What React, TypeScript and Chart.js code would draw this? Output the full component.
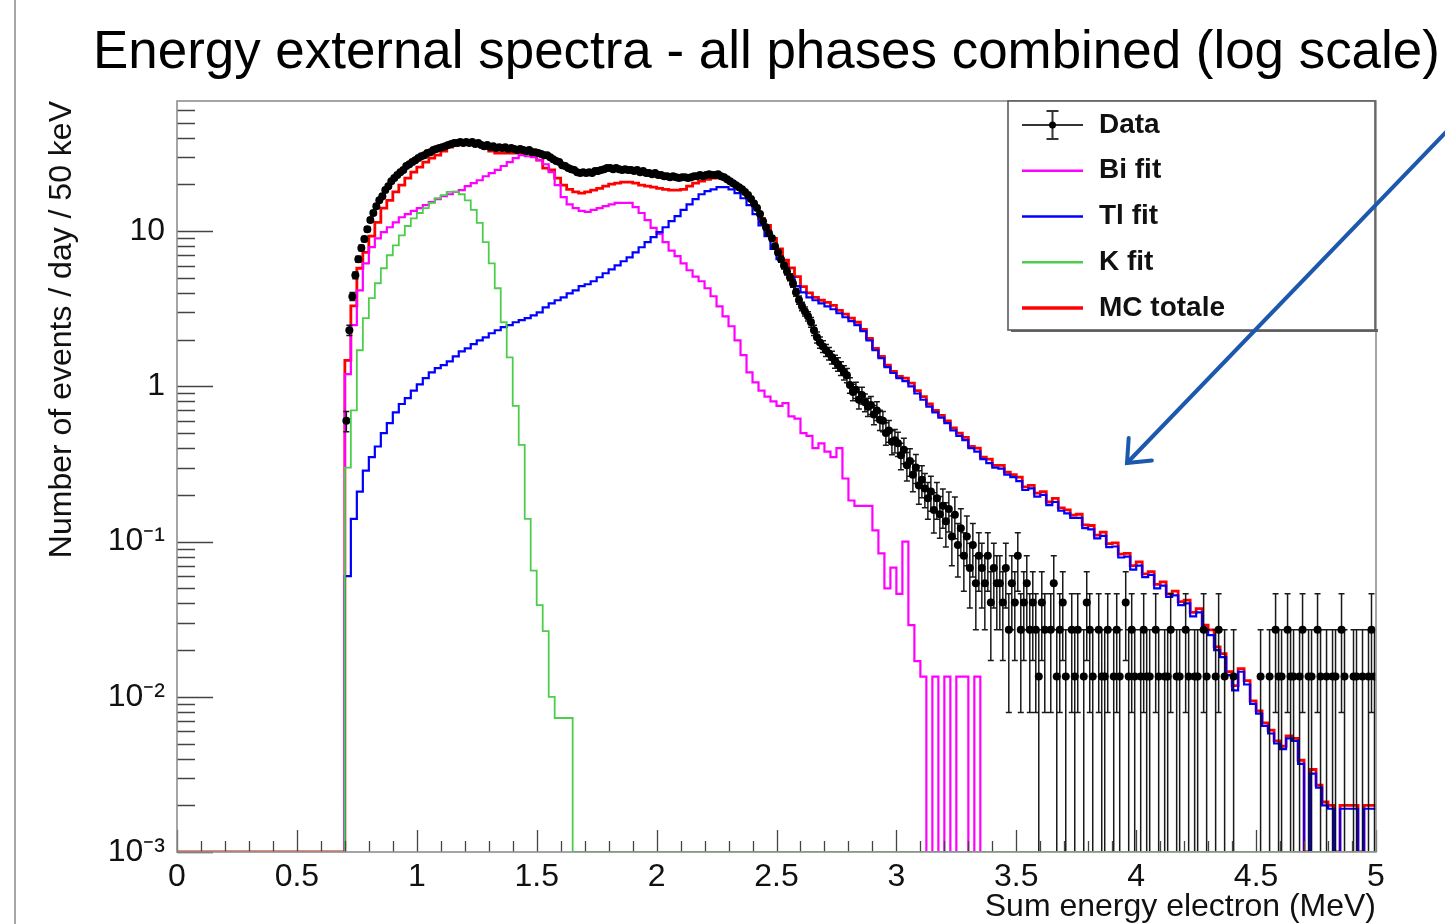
import React, { useEffect, useRef } from 'react';
import { Chart, registerables } from 'chart.js';

Chart.register(...registerables);

// ---------- text ----------
const TITLE = 'Energy external spectra - all phases combined (log scale)';
const X_TITLE = 'Sum energy electron (MeV)';
const Y_TITLE = 'Number of events / day / 50 keV';
const LEGEND_LABELS = ['Data', 'Bi fit', 'Tl fit', 'K fit', 'MC totale'];

// ---------- axes ----------
const X_MIN = 0;
const X_MAX = 5;
const X_TICK_STEP = 0.5;
const X_MINOR_STEP = 0.1;
const Y_MIN = 0.001;
const Y_MAX = 69;
const Y_TICKS = [0.001, 0.01, 0.1, 1, 10];
const Y_TICK_LABELS = ['10⁻³', '10⁻²', '10⁻¹', '1', '10'];

// ---------- binning ----------
// everything starts at the 0.700 MeV threshold (empty below)
const FIRST_BIN_LOW = 0.7;
const MC_BIN_WIDTH = 0.025; // fit histograms
const DATA_BIN_WIDTH = 0.0125; // data points
// weight of a single recorded event (events / day / bin) -> Poisson errors
const EVENT_WEIGHT = 0.0135;

// ---------- series (one value per bin from 0.700 MeV; bins after the last listed value are empty) ----------
const DATA = [
  0.6, 2.3, 3.8, 5.2, 6.6, 7.8, 8.9, 10.3, 11.8, 13.1,
  14.5, 15.8, 16.8, 18.4, 19.5, 21.0, 22.0, 23.0, 24.0, 24.8,
  26.3, 27.0, 27.9, 28.7, 29.6, 30.4, 30.9, 31.9, 32.3, 33.3,
  33.8, 34.3, 34.8, 35.3, 35.9, 36.4, 37.0, 37.0, 37.5, 37.0,
  37.5, 37.0, 37.5, 36.4, 37.0, 35.9, 35.3, 35.9, 34.8, 35.3,
  34.3, 34.8, 34.3, 34.8, 33.8, 34.3, 33.8, 33.3, 33.8, 33.3,
  32.8, 33.3, 32.3, 32.3, 31.9, 31.4, 30.9, 30.9, 30.0, 29.1,
  28.3, 27.9, 26.6, 26.3, 25.5, 25.1, 24.8, 24.0, 23.7, 24.0,
  23.7, 24.0, 23.7, 24.4, 24.4, 24.8, 25.1, 25.5, 25.5, 25.1,
  25.5, 25.1, 24.8, 25.1, 24.8, 24.8, 24.4, 24.8, 24.0, 24.4,
  23.7, 23.7, 23.3, 23.7, 23.0, 23.0, 22.6, 22.6, 22.3, 22.6,
  22.3, 22.0, 22.3, 22.3, 22.0, 22.3, 22.6, 22.6, 23.0, 22.6,
  23.0, 23.3, 23.0, 23.0, 23.3, 22.6, 22.3, 21.6, 21.0, 20.4,
  19.8, 19.2, 18.6, 17.9, 17.1, 16.1, 15.1, 14.1, 12.9, 11.6,
  10.6, 9.7, 9.0, 8.0, 7.3, 6.6, 6.0, 5.5, 5.05, 4.6,
  4.04, 3.6, 3.28, 3.04, 2.83, 2.59, 2.3, 2.07, 1.92, 1.81,
  1.71, 1.63, 1.54, 1.45, 1.39, 1.31, 1.23, 1.18, 1.02, 0.92,
  0.95, 0.82, 0.88, 0.79, 0.74, 0.76, 0.66, 0.7, 0.61, 0.6,
  0.5, 0.52, 0.44, 0.45, 0.43, 0.36, 0.39, 0.31, 0.33, 0.27,
  0.3, 0.23, 0.25, 0.22, 0.19, 0.21, 0.16, 0.19, 0.15, 0.17,
  0.135, 0.162, 0.108, 0.149, 0.095, 0.122, 0.081, 0.108, 0.0675, 0.095,
  0.054, 0.081, 0.0675, 0.054, 0.081, 0.0405, 0.0675, 0.054,
  0.054, 0.0405, 0.0675, 0.027, 0.054, 0.0405, 0.081, 0.027, 0.0405, 0.054, 0.027, 0.0405,
  0.027, 0.0135, 0.0405, 0.027, 0, 0.027, 0.054, 0.0135, 0.027, 0.0405, 0.0135, 0, 0.027,
  0.0135, 0.027, 0, 0.0135, 0.0405, 0.027, 0.0135, 0, 0.027, 0.0135,
  0.0135, 0.027, 0, 0.0135, 0.027, 0.0135, 0, 0.0405, 0.0135, 0.027,
  0.0135, 0, 0.0135, 0.027, 0.0135, 0.0135, 0, 0.027, 0.0135, 0, 0.0135, 0.0135,
  0.027, 0, 0.0135, 0.0135, 0, 0.027, 0.0135, 0, 0.0135, 0.0135, 0, 0.027,
  0.0135, 0, 0, 0.0135, 0.027, 0, 0.0135, 0, 0, 0.0135, 0, 0, 0,
  0, 0, 0, 0, 0, 0.0135, 0, 0, 0.0135, 0, 0.027, 0.0135,
  0.0135, 0, 0.027, 0.0135, 0.0135, 0, 0.0135, 0.027, 0, 0.0135, 0.0135, 0, 0.027, 0.0135, 0, 0.0135,
  0, 0.0135, 0.0135, 0, 0.027, 0.0135, 0, 0, 0.0135, 0.0135, 0, 0.0135, 0, 0.0135, 0.027, 0.0135,
];

const BI_FIT = [
  1.2, 2.48, 4.16, 6.2, 7.9, 9.0, 9.85, 10.6, 11.4, 12.3,
  12.9, 13.5, 14.1, 14.7, 15.4, 16.1, 16.8, 17.3, 17.9, 18.4,
  19.5, 20.4, 21.3, 22.6, 23.7, 24.8, 26.3, 27.9, 29.6, 30.9,
  30.4, 30.0, 28.7, 27.0, 24.0, 19.8, 16.6, 14.9, 14.1, 13.5,
  13.3, 13.7, 14.1, 14.5, 14.9, 15.2, 15.2, 15.2, 14.3, 13.1,
  11.8, 10.5, 9.6, 8.5, 7.5, 6.9, 6.2, 5.6, 5.1, 4.76,
  4.29, 3.81, 3.28, 2.83, 2.44, 1.98, 1.59, 1.23, 1.06, 0.94,
  0.86, 0.8, 0.75, 0.78, 0.64, 0.62, 0.5, 0.48, 0.4, 0.43,
  0.38, 0.35, 0.4, 0.255, 0.184, 0.17, 0.17, 0.17, 0.118, 0.084,
  0.05, 0.068, 0.046, 0.1, 0.029, 0.017, 0.0135, 0, 0.0135, 0,
  0.0135, 0, 0.0135, 0.0135, 0, 0.0135,
];

const TL_FIT = [
  0.06, 0.14, 0.21, 0.287, 0.35, 0.41, 0.5, 0.58, 0.68, 0.77,
  0.84, 0.94, 1.03, 1.13, 1.23, 1.31, 1.37, 1.45, 1.56, 1.68,
  1.76, 1.87, 1.98, 2.07, 2.2, 2.3, 2.41, 2.48, 2.59, 2.67,
  2.75, 2.87, 3.0, 3.23, 3.43, 3.59, 3.75, 3.98, 4.16, 4.42,
  4.55, 4.76, 5.05, 5.36, 5.68, 6.03, 6.4, 6.79, 7.31, 7.88,
  8.49, 9.15, 9.85, 10.6, 11.6, 12.5, 13.7, 14.9, 16.1, 17.3,
  18.1, 18.6, 19.2, 19.2, 18.6, 17.6, 16.3, 14.7, 12.9, 10.9,
  9.3, 7.7, 6.6, 5.8, 5.05, 4.42, 4.04, 3.75, 3.59, 3.43,
  3.28, 3.14, 2.96, 2.79, 2.63, 2.48, 2.27, 1.98, 1.71, 1.52,
  1.33, 1.22, 1.13, 1.08, 1.0, 0.9, 0.82, 0.74, 0.68, 0.63,
  0.58, 0.52, 0.48, 0.45, 0.4, 0.38, 0.34, 0.32, 0.3, 0.295,
  0.27, 0.26, 0.245, 0.215, 0.22, 0.195, 0.2, 0.172, 0.18, 0.158,
  0.152, 0.142, 0.142, 0.122, 0.12, 0.105, 0.109, 0.092, 0.093, 0.079,
  0.08, 0.066, 0.07, 0.059, 0.061, 0.05, 0.052, 0.044, 0.045, 0.039,
  0.04, 0.033, 0.035, 0.027, 0.025, 0.02, 0.018, 0.0138, 0.011, 0.0145,
  0.012, 0.009, 0.0078, 0.0065, 0.0058, 0.005, 0.0046, 0.0054, 0.0052, 0.0037,
  0, 0.0032, 0.0026, 0.002, 0.0019, 0, 0.0019, 0.0019, 0.0019, 0,
  0.0019, 0.0019,
];

const K_FIT = [
  0.3, 0.7, 1.71, 2.75, 3.7, 4.62, 5.77, 7.0, 8.1, 9.4,
  10.8, 12.1, 13.1, 14.1, 15.2, 16.3, 17.1, 17.9, 17.9, 17.3,
  15.8, 13.7, 11.3, 8.5, 6.2, 4.29, 2.59, 1.54, 0.75, 0.42,
  0.14, 0.065, 0.039, 0.0265, 0.01, 0.0073, 0.0073, 0.0073,
];

const MC_TOTAL = [
  1.47, 3.3, 5.77, 7.3, 9.3, 11.4, 14.1, 15.8, 17.9, 19.8,
  22.0, 24.0, 25.9, 27.9, 29.6, 30.9, 32.8, 34.8, 35.9, 37.0,
  37.0, 36.4, 35.9, 34.3, 32.8, 31.9, 31.9, 31.9, 31.9, 31.9,
  31.9, 30.9, 28.7, 25.5, 24.8, 22.0, 19.8, 18.6, 17.9, 17.6,
  17.9, 18.4, 18.9, 19.5, 20.1, 20.4, 20.7, 20.7, 20.4, 19.8,
  19.5, 19.2, 18.9, 18.6, 18.4, 18.4, 18.6, 19.5, 20.4, 21.0,
  21.6, 22.0, 22.3, 22.0, 20.7, 19.5, 18.1, 16.3, 14.5, 12.1,
  10.9, 9.0, 7.7, 6.5, 5.8, 5.1, 4.4, 4.0, 3.75, 3.59,
  3.48, 3.33, 3.09, 2.92, 2.75, 2.59, 2.33, 2.04, 1.76, 1.56,
  1.37, 1.25, 1.16, 1.13, 1.05, 0.94, 0.86, 0.77, 0.7, 0.65,
  0.6, 0.54, 0.5, 0.47, 0.41, 0.4, 0.35, 0.34, 0.31, 0.31,
  0.28, 0.27, 0.26, 0.225, 0.23, 0.205, 0.21, 0.18, 0.19, 0.165,
  0.16, 0.148, 0.15, 0.128, 0.127, 0.11, 0.115, 0.097, 0.098, 0.083,
  0.084, 0.07, 0.074, 0.062, 0.064, 0.053, 0.055, 0.046, 0.048, 0.041,
  0.042, 0.035, 0.037, 0.029, 0.027, 0.021, 0.019, 0.0145, 0.0118, 0.0152,
  0.0127, 0.0094, 0.0081, 0.0068, 0.0061, 0.0052, 0.0048, 0.0056, 0.0054, 0.0039,
  0, 0.0034, 0.0027, 0.0021, 0.002, 0, 0.002, 0.002, 0.002, 0,
  0.002, 0.002,
];

// ---------- styles ----------
const FONT = '"Liberation Sans", Arial, Helvetica, sans-serif';
const COLORS = {
  data: '#000000',
  bi: '#ff00ff',
  tl: '#0000ff',
  k: '#4ccd4c',
  mc: '#ff0000',
};
const ARROW_COLOR = '#1c58ad';

// step-histogram outline: empty bins sit on the axis floor, like ROOT draws them
function histPoints(values: number[], width: number) {
  const n = Math.round((X_MAX - FIRST_BIN_LOW) / width);
  const floor = (v: number) => (v > 0 ? v : Y_MIN);
  const pts: { x: number; y: number }[] = [{ x: X_MIN, y: Y_MIN }];
  for (let i = 0; i < n; i++) pts.push({ x: FIRST_BIN_LOW + i * width, y: floor(values[i] ?? 0) });
  pts.push({ x: X_MAX, y: floor(values[n - 1] ?? 0) });
  return pts;
}

function dataPoints(values: number[], width: number) {
  const pts: { x: number; y: number }[] = [];
  values.forEach((v, i) => {
    if (v > 0) pts.push({ x: FIRST_BIN_LOW + (i + 0.5) * width, y: v });
  });
  return pts;
}

const errorBarPlugin = {
  id: 'errorBars',
  beforeDatasetDraw(chart: any, args: any) {
    const ds = chart.data.datasets[args.index];
    if (!ds.errorBars) return;
    const { ctx, chartArea: a, scales } = chart;
    const x = scales.x;
    const y = scales.y;
    ctx.save();
    ctx.beginPath();
    ctx.rect(a.left, a.top, a.width, a.height);
    ctx.clip();
    ctx.strokeStyle = 'rgba(0,0,0,0.9)';
    ctx.lineWidth = 1.5;
    ctx.beginPath();
    for (const p of ds.data) {
      const e = Math.sqrt(p.y * EVENT_WEIGHT);
      const px = x.getPixelForValue(p.x);
      const py = y.getPixelForValue(p.y);
      const hasLow = p.y - e > Y_MIN;
      const lo = hasLow ? y.getPixelForValue(p.y - e) : a.bottom;
      const hi = y.getPixelForValue(p.y + e);
      ctx.moveTo(px, lo);
      ctx.lineTo(px, hi);
      ctx.moveTo(px - 3, hi);
      ctx.lineTo(px + 3, hi);
      if (hasLow) {
        ctx.moveTo(px - 3, lo);
        ctx.lineTo(px + 3, lo);
      }
      const xl = x.getPixelForValue(p.x - DATA_BIN_WIDTH / 2);
      const xr = x.getPixelForValue(p.x + DATA_BIN_WIDTH / 2);
      ctx.moveTo(xl, py);
      ctx.lineTo(xr, py);
    }
    ctx.stroke();
    ctx.restore();
  },
};

const framePlugin = {
  id: 'rootFrame',
  afterDatasetsDraw(chart: any) {
    const { ctx, chartArea: a, scales } = chart;
    const x = scales.x;
    const y = scales.y;
    ctx.save();
    ctx.strokeStyle = '#444';
    ctx.lineWidth = 1.3;
    ctx.beginPath();
    const nMinor = Math.round((X_MAX - X_MIN) / X_MINOR_STEP);
    const perMajor = Math.round(X_TICK_STEP / X_MINOR_STEP);
    for (let k = 0; k <= nMinor; k++) {
      const px = Math.round(x.getPixelForValue(X_MIN + k * X_MINOR_STEP)) + 0.5;
      const len = k % perMajor === 0 ? 22 : 11;
      ctx.moveTo(px, a.bottom);
      ctx.lineTo(px, a.bottom - len);
    }
    for (let d = -3; d <= 1; d++) {
      for (let m = 1; m <= 9; m++) {
        const v = m * Math.pow(10, d);
        if (v < Y_MIN || v > Y_MAX) continue;
        const py = Math.round(y.getPixelForValue(v)) + 0.5;
        const len = m === 1 ? 36 : 18;
        ctx.moveTo(a.left, py);
        ctx.lineTo(a.left + len, py);
      }
    }
    ctx.stroke();
    ctx.strokeStyle = '#8f8f8f';
    ctx.lineWidth = 1.6;
    ctx.strokeRect(a.left, a.top, a.right - a.left, a.bottom - a.top);
    ctx.restore();
  },
};

const overlayPlugin = {
  id: 'overlay',
  afterDraw(chart: any) {
    const { ctx } = chart;
    ctx.save();

    // slide border line on the far left
    ctx.strokeStyle = '#a6a6a6';
    ctx.lineWidth = 2;
    ctx.beginPath();
    ctx.moveTo(15, 0);
    ctx.lineTo(15, chart.height);
    ctx.stroke();

    // title, fitted to its width in the reference
    ctx.fillStyle = '#000';
    ctx.textBaseline = 'alphabetic';
    ctx.textAlign = 'left';
    ctx.font = `53px ${FONT}`;
    const w = ctx.measureText(TITLE).width;
    const size = (53 * 1347) / w;
    ctx.font = `${size.toFixed(2)}px ${FONT}`;
    ctx.fillText(TITLE, 93, 68);

    // legend
    const L = 1008, T = 101, R = 1375, B = 330;
    ctx.fillStyle = '#666';
    ctx.fillRect(L + 3, B - 1, R - L, 3);
    ctx.fillStyle = '#fff';
    ctx.fillRect(L, T, R - L, B - T);
    ctx.strokeStyle = '#5a5a5a';
    ctx.lineWidth = 1.6;
    ctx.strokeRect(L, T, R - L, B - T);
    const rowH = (B - T) / LEGEND_LABELS.length;
    const sx0 = 1022, sx1 = 1083;
    const legendColors = [COLORS.data, COLORS.bi, COLORS.tl, COLORS.k, COLORS.mc];
    LEGEND_LABELS.forEach((label, i) => {
      const cy = T + rowH * (i + 0.5) + 1;
      if (i === 0) {
        ctx.strokeStyle = '#333';
        ctx.lineWidth = 2;
        ctx.beginPath();
        ctx.moveTo(sx0, cy);
        ctx.lineTo(sx1, cy);
        const cx = (sx0 + sx1) / 2;
        ctx.moveTo(cx, cy - 14);
        ctx.lineTo(cx, cy + 14);
        ctx.moveTo(cx - 6, cy - 14);
        ctx.lineTo(cx + 6, cy - 14);
        ctx.moveTo(cx - 6, cy + 14);
        ctx.lineTo(cx + 6, cy + 14);
        ctx.stroke();
        ctx.fillStyle = '#000';
        ctx.beginPath();
        ctx.arc(cx, cy, 3.5, 0, Math.PI * 2);
        ctx.fill();
      } else {
        ctx.strokeStyle = legendColors[i];
        ctx.lineWidth = i === 4 ? 3.5 : 2.5;
        ctx.beginPath();
        ctx.moveTo(sx0, cy);
        ctx.lineTo(sx1, cy);
        ctx.stroke();
      }
      ctx.fillStyle = '#111';
      ctx.font = `bold 28px ${FONT}`;
      ctx.textBaseline = 'middle';
      ctx.fillText(label, 1099, cy);
    });

    // annotation arrow
    const tipX = 1127, tipY = 463;
    const fromX = 1450, fromY = 128;
    ctx.strokeStyle = ARROW_COLOR;
    ctx.lineWidth = 4;
    ctx.lineCap = 'round';
    ctx.beginPath();
    ctx.moveTo(fromX, fromY);
    ctx.lineTo(tipX, tipY);
    ctx.stroke();
    const ang = Math.atan2(tipY - fromY, tipX - fromX);
    const len = 25, spread = 0.7;
    ctx.beginPath();
    ctx.moveTo(tipX - len * Math.cos(ang - spread), tipY - len * Math.sin(ang - spread));
    ctx.lineTo(tipX, tipY);
    ctx.lineTo(tipX - len * Math.cos(ang + spread), tipY - len * Math.sin(ang + spread));
    ctx.stroke();

    ctx.restore();
  },
};

export default function App() {
  const canvasRef = useRef<HTMLCanvasElement | null>(null);

  useEffect(() => {
    const canvas = canvasRef.current;
    if (!canvas) return;
    const stepLine = (label: string, values: number[], color: string, width: number) => ({
      label,
      data: histPoints(values, MC_BIN_WIDTH),
      borderColor: color,
      backgroundColor: color,
      borderWidth: width,
      pointRadius: 0,
      stepped: true,
      fill: false,
      tension: 0,
    });

    const chart = new Chart(canvas, {
      type: 'line',
      data: {
        datasets: [
          stepLine(LEGEND_LABELS[3], K_FIT, COLORS.k, 1.8) as any,
          {
            label: LEGEND_LABELS[0],
            data: dataPoints(DATA, DATA_BIN_WIDTH),
            showLine: false,
            pointRadius: 4,
            pointBackgroundColor: COLORS.data,
            pointBorderWidth: 0,
            borderColor: COLORS.data,
            errorBars: true,
          } as any,
          stepLine(LEGEND_LABELS[2], TL_FIT, COLORS.tl, 2.2) as any,
          stepLine(LEGEND_LABELS[1], BI_FIT, COLORS.bi, 2.2) as any,
          stepLine(LEGEND_LABELS[4], MC_TOTAL, COLORS.mc, 2.8) as any,
        ],
      },
      options: {
        animation: false,
        responsive: false,
        events: [],
        layout: { padding: { left: 0, right: 69, top: 101, bottom: 0 } },
        plugins: {
          legend: { display: false },
          tooltip: { enabled: false },
          title: { display: false },
        },
        scales: {
          x: {
            type: 'linear',
            min: X_MIN,
            max: X_MAX,
            grid: { display: false, drawTicks: false },
            border: { display: false },
            ticks: {
              stepSize: X_TICK_STEP,
              padding: 6,
              maxRotation: 0,
              autoSkip: false,
              color: '#111',
              font: { family: FONT, size: 32 },
              callback: (v: any) => String(Math.round(Number(v) * 10) / 10),
            },
            title: {
              display: true,
              text: X_TITLE,
              align: 'end',
              color: '#111',
              font: { family: FONT, size: 32 },
              padding: { top: 0, bottom: -2 },
            },
            afterFit: (s: any) => {
              s.height = 72;
            },
          },
          y: {
            type: 'logarithmic',
            min: Y_MIN,
            max: Y_MAX,
            grid: { display: false, drawTicks: false },
            border: { display: false },
            afterBuildTicks: (s: any) => {
              s.ticks = Y_TICKS.map((value) => ({ value }));
            },
            ticks: {
              padding: 12,
              autoSkip: false,
              color: '#111',
              font: { family: FONT, size: 32 },
              callback: (v: any) => {
                const idx = Y_TICKS.findIndex((t) => Math.abs(t - Number(v)) / t < 1e-6);
                return idx >= 0 ? Y_TICK_LABELS[idx] : '';
              },
            },
            title: {
              display: true,
              text: Y_TITLE,
              align: 'end',
              color: '#111',
              font: { family: FONT, size: 32 },
              padding: { top: 43, bottom: 0 },
            },
            afterFit: (s: any) => {
              s.width = 177;
            },
          },
        },
      } as any,
      plugins: [errorBarPlugin, framePlugin, overlayPlugin],
    });

    return () => chart.destroy();
  }, []);

  return (
    <div
      style={{
        position: 'fixed',
        left: 0,
        top: 0,
        width: 1445,
        height: 924,
        background: '#ffffff',
        overflow: 'hidden',
      }}
    >
      <canvas ref={canvasRef} width={1445} height={924} style={{ display: 'block' }} />
    </div>
  );
}
